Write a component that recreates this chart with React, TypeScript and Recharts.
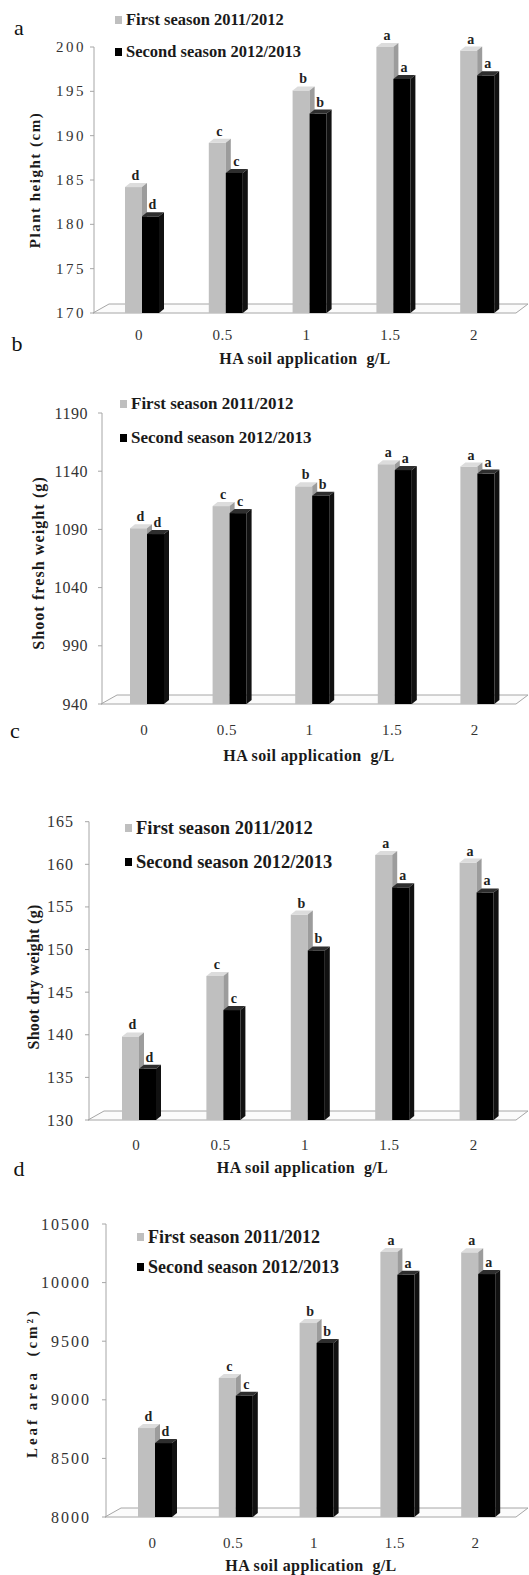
import React from 'react';
import { BarChart, Bar, XAxis, YAxis, Legend, LabelList } from 'recharts';

const categories = ['0', '0.5', '1', '1.5', '2'];
const seriesNames = ['First season 2011/2012', 'Second season 2012/2013'];
const letters = ['d', 'c', 'b', 'a', 'a'];
const xTitle = 'HA soil application  g/L';

const heightFirst = [184.2, 189.2, 195.1, 200.0, 199.6];
const heightSecond = [180.9, 185.8, 192.5, 196.4, 196.8];
const heightTicks = [170, 175, 180, 185, 190, 195, 200];

const freshFirst = [1091, 1110, 1127, 1146, 1144];
const freshSecond = [1086, 1104, 1119, 1141, 1138];
const freshTicks = [940, 990, 1040, 1090, 1140, 1190];

const dryFirst = [139.8, 146.9, 154.1, 161.1, 160.2];
const drySecond = [136.0, 142.9, 149.9, 157.3, 156.7];
const dryTicks = [130, 135, 140, 145, 150, 155, 160, 165];

const leafFirst = [8759, 9186, 9655, 10261, 10258];
const leafSecond = [8631, 9035, 9485, 10067, 10073];
const leafTicks = [8000, 8500, 9000, 9500, 10000, 10500];

const FONT = '"Liberation Serif", "Times New Roman", serif';
const DX = 5;
const DY = 4;
const SHIFT = 3;
const RIGHT = 516;
const W = 529;

const panels = [
  {
    key: 'a', first: heightFirst, second: heightSecond, ticks: heightTicks,
    yTitle: 'Plant height (cm)', top: 0, height: 370, plotTop: 47, plotBottom: 313,
    axisX: 94, padLeft: 3, tickMargin: 4, yFont: 15, yLS: 2.5,
    yTitleX: 35, yTitleY: 180, yTitleFont: 15, yTitleLS: 1.5,
    legendX: 115, legendRow1: 20, legendGap: 32, legendFont: 16.5,
    xTickDy: 22, xTitleDy: 45, letterX: 19, letterY: 27,
  },
  {
    key: 'b', first: freshFirst, second: freshSecond, ticks: freshTicks,
    yTitle: 'Shoot fresh weight (g)', top: 370, height: 400, plotTop: 413, plotBottom: 704,
    axisX: 102, padLeft: 1, tickMargin: 10, yFont: 16, yLS: 0.5,
    yTitleX: 38, yTitleY: 563, yTitleFont: 16, yTitleLS: 1.1,
    legendX: 120, legendRow1: 404, legendGap: 34, legendFont: 17,
    xTickDy: 26, xTitleDy: 51, letterX: 17, letterY: 343,
  },
  {
    key: 'c', first: dryFirst, second: drySecond, ticks: dryTicks,
    yTitle: 'Shoot dry weight (g)', top: 770, height: 410, plotTop: 821.7, plotBottom: 1120,
    axisX: 89, padLeft: 5, tickMargin: 11, yFont: 16, yLS: 1,
    yTitleX: 33, yTitleY: 977, yTitleFont: 16, yTitleLS: 0.3,
    legendX: 125, legendRow1: 828, legendGap: 34, legendFont: 18.5,
    xTickDy: 25, xTitleDy: 47, letterX: 15, letterY: 730,
  },
  {
    key: 'd', first: leafFirst, second: leafSecond, ticks: leafTicks,
    yTitle: 'Leaf area  (cm²)', top: 1180, height: 395, plotTop: 1224, plotBottom: 1517,
    axisX: 106, padLeft: 6, tickMargin: 11, yFont: 16, yLS: 2,
    yTitleX: 32, yTitleY: 1383, yTitleFont: 15, yTitleLS: 3,
    legendX: 137, legendRow1: 1237, legendGap: 30, legendFont: 18,
    xTickDy: 26, xTitleDy: 48, letterX: 19, letterY: 1168,
  },
];

function make3D(front: string, topC: string, side: string) {
  return (props: any) => {
    const { x, y, width, height } = props;
    if (x == null || width == null || !(height > 0)) return null;
    const x0 = x + SHIFT;
    return (
      <g>
        <rect x={x0} y={y} width={width} height={height} fill={front} />
        <polygon
          points={`${x0},${y} ${x0 + DX},${y - DY} ${x0 + width + DX},${y - DY} ${x0 + width},${y}`}
          fill={topC}
        />
        <polygon
          points={`${x0 + width},${y} ${x0 + width + DX},${y - DY} ${x0 + width + DX},${y + height - DY} ${x0 + width},${y + height}`}
          fill={side}
        />
      </g>
    );
  };
}

const grayShape = make3D('#bfbfbf', '#dcdcdc', '#9c9c9c');
const blackShape = make3D('#000000', '#2e2e2e', '#111111');

const letterContent = (props: any) => {
  const vb = props.viewBox && props.viewBox.width != null ? props.viewBox : props;
  const { x, y, width } = vb;
  if (x == null) return null;
  return (
    <text
      x={x + SHIFT + width / 2 + 2}
      y={y - 7}
      textAnchor="middle"
      fontFamily={FONT}
      fontWeight="bold"
      fontSize={14}
      fill="#222"
    >
      {props.value}
    </text>
  );
};

function Panel({ p }: { p: any }) {
  const data = categories.map((c, i) => ({
    cat: c,
    first: p.first[i],
    second: p.second[i],
    letter: letters[i],
  }));
  const chartPlotBottom = p.plotBottom - p.top;
  const xAxisHeight = p.height - chartPlotBottom;
  const legendContent = (lp: any) => {
    const payload = lp.payload || [];
    return (
      <div style={{ fontFamily: FONT, fontWeight: 'bold', fontSize: p.legendFont, color: '#1a1a1a' }}>
        {payload.map((it: any, i: number) => (
          <div key={i} style={{ display: 'flex', alignItems: 'center', height: p.legendGap, whiteSpace: 'nowrap' }}>
            <span style={{ display: 'inline-block', width: 7, height: 8, background: it.color, marginRight: 4 }} />
            <span>{it.value}</span>
          </div>
        ))}
      </div>
    );
  };
  return (
    <div style={{ position: 'absolute', left: 0, top: p.top }}>
      <BarChart
        width={W}
        height={p.height}
        data={data}
        margin={{ top: p.plotTop - p.top, right: W - RIGHT, bottom: 0, left: 0 }}
        barGap={0}
        barSize={17}
      >
        <XAxis
          dataKey="cat"
          height={xAxisHeight}
          axisLine={false}
          tickLine={false}
          tickSize={0}
          tickMargin={0}
          interval={0}
          padding={{ left: p.padLeft, right: 0 }}
          tick={(tp: any) => (
            <text
              x={tp.x}
              y={tp.y + p.xTickDy}
              textAnchor="middle"
              dominantBaseline="central"
              fontFamily={FONT}
              fontSize={15}
              fill="#333"
              letterSpacing={0.5}
            >
              {tp.payload.value}
            </text>
          )}
          label={(lp: any) => {
            const vb = lp.viewBox || {};
            return (
              <text
                x={vb.x + vb.width / 2}
                y={vb.y + p.xTitleDy}
                textAnchor="middle"
                dominantBaseline="central"
                fontFamily={FONT}
                fontWeight="bold"
                fontSize={16}
                fill="#1a1a1a"
                letterSpacing={0.4}
                xmlSpace="preserve"
                style={{ whiteSpace: 'pre' }}
              >
                {xTitle}
              </text>
            );
          }}
        />
        <YAxis
          type="number"
          width={p.axisX}
          domain={[p.ticks[0], p.ticks[p.ticks.length - 1]]}
          ticks={p.ticks}
          interval={0}
          axisLine={{ stroke: '#a6a6a6' }}
          tickLine={{ stroke: '#a6a6a6' }}
          tickSize={4}
          tickMargin={p.tickMargin}
          tick={(tp: any) => (
            <text
              x={tp.x}
              y={tp.y}
              textAnchor="end"
              dominantBaseline="central"
              fontFamily={FONT}
              fontSize={p.yFont}
              fill="#333"
              letterSpacing={p.yLS}
            >
              {tp.payload.value}
            </text>
          )}
          label={() => {
            const tx = p.yTitleX;
            const ty = p.yTitleY - p.top;
            return (
              <text
                x={tx}
                y={ty}
                transform={`rotate(-90 ${tx} ${ty})`}
                textAnchor="middle"
                dominantBaseline="central"
                fontFamily={FONT}
                fontWeight="bold"
                fontSize={p.yTitleFont}
                fill="#1a1a1a"
                letterSpacing={p.yTitleLS}
                xmlSpace="preserve"
                style={{ whiteSpace: 'pre' }}
              >
                {p.yTitle}
              </text>
            );
          }}
        />
        <Legend
          layout="vertical"
          align="center"
          verticalAlign="middle"
          content={legendContent}
          wrapperStyle={{
            left: p.legendX,
            top: p.legendRow1 - p.top - p.legendGap / 2,
            width: 'auto',
            height: 'auto',
          }}
        />
        <Bar dataKey="first" name={seriesNames[0]} fill="#bfbfbf" legendType="square" shape={grayShape} isAnimationActive={false}>
          <LabelList dataKey="letter" content={letterContent} />
        </Bar>
        <Bar dataKey="second" name={seriesNames[1]} fill="#000000" legendType="square" shape={blackShape} isAnimationActive={false}>
          <LabelList dataKey="letter" content={letterContent} />
        </Bar>
      </BarChart>
    </div>
  );
}

function Floors() {
  return (
    <svg width={W} height={1575} style={{ position: 'absolute', left: 0, top: 0 }}>
      {panels.map((p) => {
        const pb = p.plotBottom;
        const pts = `${p.axisX - 1},${pb} ${p.axisX + 15},${pb - 9} 528,${pb - 9} ${RIGHT},${pb}`;
        return <polygon key={p.key} points={pts} fill="#fbfbfb" stroke="#a6a6a6" strokeWidth={1} />;
      })}
      {panels.map((p) => (
        <text
          key={'l' + p.key}
          x={p.letterX}
          y={p.letterY}
          textAnchor="middle"
          dominantBaseline="central"
          fontFamily={FONT}
          fontSize={22}
          fill="#111"
        >
          {p.key}
        </text>
      ))}
    </svg>
  );
}

export default function App() {
  return (
    <div style={{ position: 'absolute', left: 0, top: 0, width: W, height: 1575, background: '#fff', overflow: 'hidden' }}>
      <Floors />
      {panels.map((p) => (
        <Panel key={p.key} p={p} />
      ))}
    </div>
  );
}
